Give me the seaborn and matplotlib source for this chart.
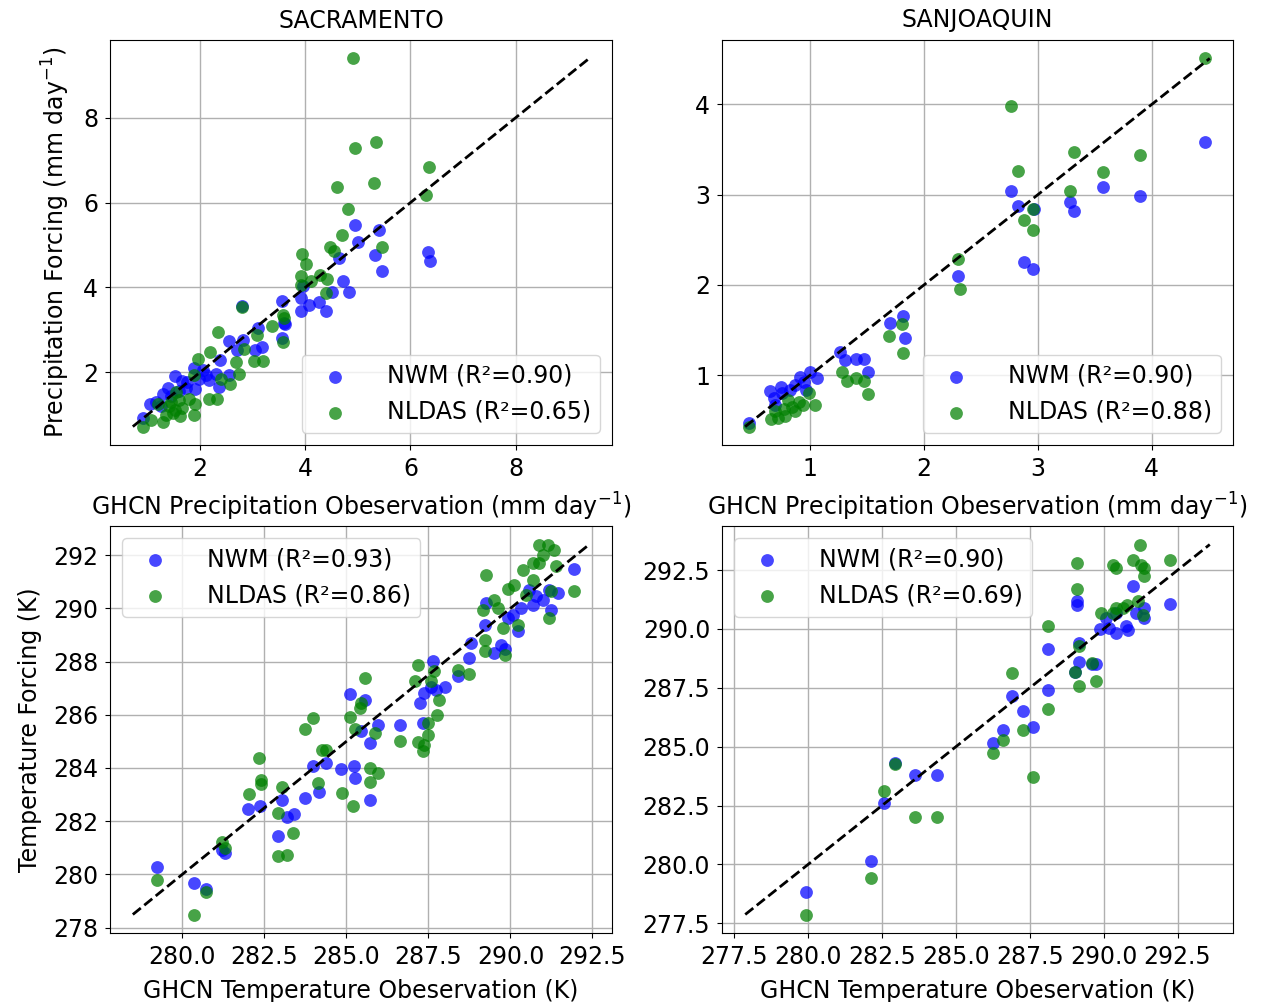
import numpy as np
import pandas as pd
import matplotlib
matplotlib.use('Agg')
import matplotlib.pyplot as plt
from matplotlib.ticker import MultipleLocator
import seaborn as sns

# ---- Sacramento precipitation (mm/day) ----
sac_p_nwm_x = [4.95, 5.40, 5.00, 4.65, 5.33, 6.33, 6.38, 5.45, 4.71, 4.84, 4.50, 3.95, 4.08, 4.27,
               4.40, 3.91, 3.92, 3.55, 3.60, 3.55, 2.80, 3.10, 3.17, 2.82, 2.54, 3.04, 2.70, 2.38,
               2.11, 2.31, 2.35, 1.88, 1.76, 1.53, 1.38, 1.05, 0.91, 1.17, 1.65, 1.90, 2.17, 2.55,
               3.61, 1.45, 1.60, 1.25, 1.98, 1.73, 2.05, 1.30]
sac_p_nwm_y = [5.47, 5.36, 5.07, 4.70, 4.77, 4.83, 4.62, 4.39, 4.15, 3.89, 3.90, 4.04, 3.59, 3.65,
               3.45, 3.45, 3.75, 3.69, 3.16, 2.81, 3.57, 3.04, 2.59, 2.75, 2.74, 2.52, 2.52, 2.28,
               1.93, 1.97, 1.66, 2.10, 1.77, 1.91, 1.62, 1.26, 0.93, 1.31, 1.80, 1.60, 1.81, 1.93,
               3.14, 1.45, 1.55, 1.20, 1.85, 1.62, 2.05, 1.50]
sac_p_nldas_x = [4.91, 4.95, 5.35, 6.35, 5.30, 6.30, 4.61, 4.81, 4.70, 5.45, 4.47, 4.55, 3.93, 4.02,
                 3.92, 4.28, 4.42, 3.92, 4.10, 4.40, 2.80, 3.57, 3.60, 3.36, 2.34, 3.08, 3.57, 2.19,
                 1.96, 3.03, 3.20, 2.68, 2.83, 2.74, 2.57, 2.39, 2.17, 2.32, 1.90, 1.89, 1.48, 1.29,
                 1.07, 0.91, 1.19, 1.54, 1.44, 1.60, 1.66, 1.79, 1.88, 1.52, 1.40, 1.35, 1.62]
sac_p_nldas_y = [9.40, 7.29, 7.42, 6.83, 6.47, 6.17, 6.37, 5.86, 5.24, 4.96, 4.96, 4.87, 4.78, 4.56,
                 4.27, 4.30, 4.19, 4.05, 4.15, 3.88, 3.53, 3.35, 3.28, 3.08, 2.94, 2.87, 2.72, 2.47,
                 2.32, 2.27, 2.26, 2.25, 2.55, 1.97, 1.73, 1.85, 1.38, 1.38, 1.25, 0.99, 1.03, 0.84,
                 0.87, 0.72, 1.26, 1.54, 1.30, 1.34, 1.15, 1.38, 1.93, 1.10, 1.20, 1.00, 0.98]

# ---- San Joaquin precipitation (mm/day) ----
sj_p_nwm_x = [0.46, 0.65, 0.74, 0.68, 0.91, 1.00, 1.06, 0.82, 0.96, 0.87, 0.69, 1.26, 1.31, 1.40,
              1.47, 1.51, 1.83, 1.70, 1.82, 2.30, 2.88, 2.96, 2.76, 2.83, 2.97, 3.28, 3.32, 3.57,
              3.90, 4.47, 0.75, 0.95]
sj_p_nwm_y = [0.47, 0.82, 0.87, 0.75, 0.98, 1.04, 0.97, 0.84, 0.84, 0.89, 0.67, 1.26, 1.17, 1.18,
              1.18, 1.03, 1.41, 1.58, 1.66, 2.10, 2.25, 2.18, 3.04, 2.88, 2.84, 2.92, 2.82, 3.09,
              2.98, 3.58, 0.80, 0.92]
sj_p_nldas_x = [0.46, 0.66, 0.69, 0.77, 0.84, 0.87, 0.94, 0.99, 1.04, 0.81, 0.72, 0.78, 0.90, 1.28,
                1.32, 1.40, 1.47, 1.51, 1.69, 1.82, 1.81, 2.30, 2.32, 2.76, 2.83, 2.88, 2.96, 2.96,
                3.28, 3.32, 3.57, 3.90, 4.47]
sj_p_nldas_y = [0.43, 0.51, 0.60, 0.62, 0.65, 0.60, 0.67, 0.80, 0.67, 0.73, 0.52, 0.55, 0.70, 1.03,
                0.93, 0.97, 0.93, 0.79, 1.43, 1.24, 1.57, 2.29, 1.96, 3.98, 3.26, 2.72, 2.61, 2.84,
                3.04, 3.47, 3.25, 3.44, 4.51]

# ---- Sacramento temperature (K) ----
sac_t_nwm_x = [279.22, 280.37, 280.72, 281.30, 281.20, 282.01, 282.36, 282.92, 283.05, 283.20,
               283.40, 283.74, 284.15, 283.99, 284.39, 284.85, 285.22, 285.27, 285.71, 285.73,
               285.96, 285.46, 285.10, 285.58, 286.62, 287.23, 287.35, 287.38, 287.64, 287.59,
               287.74, 288.02, 288.40, 288.75, 288.80, 289.21, 289.26, 289.51, 289.72, 289.82,
               289.92, 290.22, 290.33, 290.68, 290.98, 291.19, 291.44, 291.24, 291.95, 290.58,
               290.78, 290.07]
sac_t_nwm_y = [280.29, 279.66, 279.44, 280.79, 280.92, 282.46, 282.58, 281.44, 282.80, 282.15,
               282.27, 282.86, 283.11, 284.09, 284.20, 283.95, 284.08, 283.64, 282.80, 284.93,
               285.62, 285.37, 286.78, 286.56, 285.62, 286.44, 285.68, 286.81, 288.03, 287.06,
               286.94, 287.06, 287.44, 288.13, 288.69, 289.39, 290.20, 288.32, 288.63, 288.47,
               289.64, 289.13, 290.01, 290.14, 290.33, 290.70, 290.58, 289.95, 291.48, 290.70,
               290.45, 289.76]
sac_t_nldas_x = [279.22, 280.37, 280.72, 281.20, 281.30, 282.03, 282.34, 282.39, 282.39, 282.92,
                 283.20, 283.38, 282.90, 283.05, 283.73, 283.99, 284.14, 284.27, 284.39, 284.87,
                 285.20, 285.10, 285.25, 285.41, 285.46, 285.58, 285.71, 285.86, 285.71, 285.96,
                 286.62, 287.18, 287.33, 287.38, 287.48, 287.48, 287.18, 287.08, 287.59, 287.67,
                 287.76, 287.82, 288.40, 288.75, 289.16, 289.21, 289.21, 289.26, 289.51, 289.61,
                 289.77, 289.82, 289.92, 290.12, 290.22, 290.37, 290.68, 290.88, 291.14, 291.34,
                 291.19, 291.24, 291.39, 291.95, 290.48, 290.88, 290.68, 290.98]
sac_t_nldas_y = [279.79, 278.49, 279.35, 281.23, 280.98, 283.01, 284.39, 283.53, 283.40, 280.69,
                 280.73, 281.54, 282.30, 283.27, 285.46, 285.87, 283.43, 284.68, 284.68, 283.07,
                 282.57, 285.90, 285.47, 286.25, 286.44, 287.38, 283.46, 285.31, 283.99, 283.80,
                 285.03, 284.99, 284.62, 284.87, 285.68, 285.24, 287.88, 287.25, 287.25, 287.63,
                 286.00, 286.56, 287.69, 287.53, 289.95, 288.82, 288.38, 291.27, 290.33, 290.01,
                 289.26, 288.26, 290.73, 290.89, 289.39, 291.46, 291.71, 292.40, 292.40, 292.21,
                 289.64, 290.64, 291.58, 290.64, 290.51, 291.71, 291.08, 292.02]

# ---- San Joaquin temperature (K) ----
sj_t_nwm_x = [279.92, 282.13, 282.56, 282.93, 283.63, 284.36, 286.27, 286.58, 286.89, 287.28,
              287.62, 288.12, 288.12, 289.02, 289.17, 289.17, 289.11, 289.11, 289.62, 289.75,
              289.87, 290.18, 290.43, 290.76, 290.82, 290.43, 290.99, 291.10, 291.38, 291.38,
              292.25, 290.09]
sj_t_nwm_y = [278.84, 280.16, 282.62, 284.30, 283.79, 283.79, 285.15, 285.72, 287.16, 286.52,
              285.82, 287.39, 289.16, 288.16, 288.58, 289.40, 291.18, 291.00, 288.52, 288.51,
              290.00, 290.04, 289.83, 290.11, 289.97, 290.68, 291.82, 290.68, 290.89, 290.47,
              291.08, 290.47]
sj_t_nldas_x = [279.92, 282.13, 282.56, 282.93, 283.63, 284.36, 286.27, 286.58, 286.89, 287.28,
                287.62, 288.12, 288.12, 289.02, 289.17, 289.17, 289.11, 289.11, 289.62, 289.73,
                289.92, 290.31, 290.43, 290.31, 290.43, 290.79, 290.99, 291.24, 291.27, 291.38,
                291.38, 291.16, 291.33, 292.25, 290.65]
sj_t_nldas_y = [277.87, 279.40, 283.12, 284.26, 282.03, 282.03, 284.75, 285.29, 288.13, 285.72,
                283.73, 286.60, 290.14, 288.16, 287.56, 289.26, 291.70, 292.81, 288.55, 287.77,
                290.68, 292.74, 292.60, 290.68, 290.89, 291.04, 292.92, 293.59, 292.74, 292.60,
                292.27, 291.18, 290.61, 292.92, 290.89]

r2_nwm = [0.90, 0.90, 0.93, 0.90]
r2_nldas = [0.65, 0.88, 0.86, 0.69]
basins = ['SACRAMENTO', 'SANJOAQUIN']

panels = [
    (sac_p_nwm_x, sac_p_nwm_y, sac_p_nldas_x, sac_p_nldas_y),
    (sj_p_nwm_x, sj_p_nwm_y, sj_p_nldas_x, sj_p_nldas_y),
    (sac_t_nwm_x, sac_t_nwm_y, sac_t_nldas_x, sac_t_nldas_y),
    (sj_t_nwm_x, sj_t_nwm_y, sj_t_nldas_x, sj_t_nldas_y),
]
# tick spacing (x, y) per panel
steps = [(2, 2), (1, 1), (2.5, 2), (2.5, 2.5)]

fs = 17
plt.rcParams['font.size'] = fs

fig = plt.figure(figsize=(12.65, 10.02), dpi=100)
W, H = 1265, 1002
boxes = [(110, 40, 612, 445), (722, 40, 1233, 445),
         (110, 526, 612, 933), (722, 526, 1233, 933)]
axes = []
for (l, t, r, b) in boxes:
    axes.append(fig.add_axes([l / W, 1 - b / H, (r - l) / W, (b - t) / H]))

for i, ax in enumerate(axes):
    nx, ny, lx, ly = panels[i]
    df_nwm = pd.DataFrame({'obs': nx, 'sim': ny})
    df_nld = pd.DataFrame({'obs': lx, 'sim': ly})
    ax.grid(True, color='#b0b0b0', lw=1)
    ax.set_axisbelow(True)
    sns.scatterplot(data=df_nwm, x='obs', y='sim', ax=ax, color='blue', alpha=0.72, s=85,
                    linewidth=0, label=f'NWM (R\u00b2={r2_nwm[i]:.2f})')
    sns.scatterplot(data=df_nld, x='obs', y='sim', ax=ax, color='green', alpha=0.72, s=85,
                    linewidth=0, label=f'NLDAS (R\u00b2={r2_nldas[i]:.2f})')
    allv = np.concatenate([nx, ny, lx, ly])
    lo, hi = allv.min(), allv.max()
    ax.plot([lo, hi], [lo, hi], 'k--', lw=2)
    ax.xaxis.set_major_locator(MultipleLocator(steps[i][0]))
    ax.yaxis.set_major_locator(MultipleLocator(steps[i][1]))
    ax.tick_params(labelsize=fs, pad=5)
    loc = 'lower right' if i < 2 else 'upper left'
    ax.legend(loc=loc, fontsize=fs, handletextpad=1.2)
    ax.set_xlabel('')
    ax.set_ylabel('')

axes[0].set_title(basins[0], fontsize=fs, pad=9)
axes[1].set_title(basins[1], fontsize=fs, pad=9)
xl_p = 'GHCN Precipitation Obeservation (mm day$^{-1}$)'
xl_t = 'GHCN Temperature Obeservation (K)'
axes[0].set_xlabel(xl_p, fontsize=fs, labelpad=7)
axes[1].set_xlabel(xl_p, fontsize=fs, labelpad=7)
axes[0].set_ylabel('Precipitation Forcing (mm day$^{-1}$)', fontsize=fs, labelpad=8)
axes[2].set_xlabel(xl_t, fontsize=fs, labelpad=7)
axes[3].set_xlabel(xl_t, fontsize=fs, labelpad=7)
axes[2].set_ylabel('Temperature Forcing (K)', fontsize=fs, labelpad=8)

fig.savefig('out.png', dpi=100)
